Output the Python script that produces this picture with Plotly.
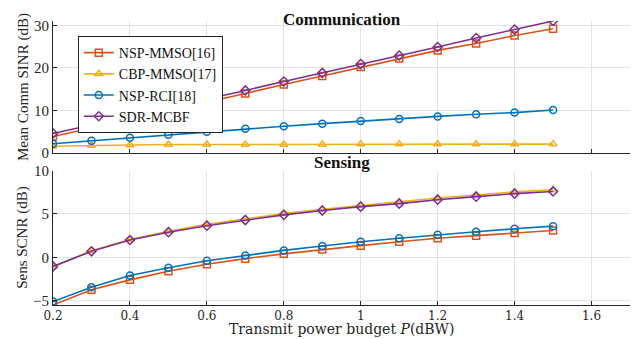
import plotly.graph_objects as go

x = [0.2, 0.3, 0.4, 0.5, 0.6, 0.7, 0.8, 0.9, 1.0, 1.1, 1.2, 1.3, 1.4, 1.5]

names = ["NSP-MMSO[16]", "CBP-MMSO[17]", "NSP-RCI[18]", "SDR-MCBF"]
colors = ["#D95319", "#EDB120", "#0072BD", "#7E2F8E"]
symbols = ["square-open", "triangle-up-open", "circle-open", "diamond-open"]

comm_nsp_mmso = [3.9, 5.9, 8.0, 10.0, 12.0, 14.0, 16.1, 18.1, 20.2, 22.2, 24.1, 25.7, 27.6, 29.2]
comm_cbp_mmso = [1.6, 1.8, 1.9, 2.0, 2.0, 2.0, 2.0, 2.0, 2.1, 2.1, 2.1, 2.1, 2.1, 2.1]
comm_nsp_rci = [2.2, 2.9, 3.6, 4.3, 5.0, 5.7, 6.3, 6.9, 7.5, 8.0, 8.6, 9.1, 9.5, 10.1]
comm_sdr_mcbf = [4.6, 6.6, 8.7, 10.7, 12.7, 14.7, 16.8, 18.8, 20.9, 22.9, 24.9, 27.0, 29.0, 31.0]

sens_nsp_mmso = [-5.5, -3.75, -2.6, -1.6, -0.8, -0.15, 0.4, 0.9, 1.35, 1.8, 2.2, 2.5, 2.8, 3.1]
sens_cbp_mmso = [-1.1, 0.75, 2.05, 3.0, 3.8, 4.45, 5.05, 5.55, 6.0, 6.4, 6.85, 7.2, 7.55, 7.8]
sens_nsp_rci = [-5.1, -3.45, -2.1, -1.2, -0.4, 0.2, 0.8, 1.3, 1.8, 2.2, 2.6, 2.95, 3.3, 3.6]
sens_sdr_mcbf = [-1.05, 0.7, 2.0, 2.9, 3.65, 4.3, 4.9, 5.4, 5.85, 6.2, 6.65, 7.0, 7.35, 7.6]

comm = [comm_nsp_mmso, comm_cbp_mmso, comm_nsp_rci, comm_sdr_mcbf]
sens = [sens_nsp_mmso, sens_cbp_mmso, sens_nsp_rci, sens_sdr_mcbf]

x_ticks = [0.2, 0.4, 0.6, 0.8, 1.0, 1.2, 1.4, 1.6]
x_ticklabels = ["0.2", "0.4", "0.6", "0.8", "1", "1.2", "1.4", "1.6"]
comm_yticks = [0, 10, 20, 30]
sens_yticks = [-5, 0, 5, 10]
x_title = "Transmit power budget <i>P</i>(dBW)"
comm_ytitle = "Mean Comm SINR (dB)"
sens_ytitle = "Sens SCNR (dB)"

SERIF = "Liberation Serif, Times New Roman, serif"
CM = "DejaVu Serif, serif"

TOP_DOM = [0.535, 1.0]
BOT_DOM = [0.0, 0.473]

fig = go.Figure()
for i in range(4):
    fig.add_trace(go.Scatter(
        x=x, y=comm[i], name=names[i], mode="lines+markers",
        line=dict(color=colors[i], width=1.6),
        marker=dict(symbol=symbols[i], size=7, color=colors[i], line=dict(width=1.5, color=colors[i])),
        xaxis="x", yaxis="y", showlegend=True, legendrank=i + 1))
for i in range(4):
    fig.add_trace(go.Scatter(
        x=x, y=sens[i], name=names[i], mode="lines+markers",
        line=dict(color=colors[i], width=1.6),
        marker=dict(symbol=symbols[i], size=7, color=colors[i], line=dict(width=1.5, color=colors[i])),
        xaxis="x2", yaxis="y2", showlegend=False))

axis_common = dict(
    showgrid=True, gridcolor="#e3e3e3", gridwidth=1,
    showline=True, linecolor="#262626", linewidth=1,
    ticks="inside", ticklen=4, tickcolor="#262626",
    zeroline=False, mirror=False, automargin=False,
    tickfont=dict(family=SERIF, size=15, color="#262626"),
)

fig.update_layout(
    width=636, height=331,
    margin=dict(l=45, r=14, t=13, b=34, autoexpand=False),
    paper_bgcolor="white", plot_bgcolor="white",
    font=dict(family=SERIF, color="#262626"),
    xaxis=dict(axis_common, range=[0.2, 1.7], tickvals=x_ticks, ticktext=x_ticklabels,
               showticklabels=False, anchor="y", domain=[0, 1]),
    yaxis=dict(axis_common, range=[0, 31], tickvals=comm_yticks, domain=TOP_DOM, anchor="x"),
    xaxis2=dict(axis_common, range=[0.2, 1.7], tickvals=x_ticks, ticktext=x_ticklabels,
                tickfont=dict(family=CM, size=12, color="#262626"),
                anchor="y2", domain=[0, 1]),
    yaxis2=dict(axis_common, range=[-5.5, 10], tickvals=sens_yticks, domain=BOT_DOM, anchor="x2"),
    legend=dict(x=0.043, y=0.947, xanchor="left", yanchor="top",
                bgcolor="white", bordercolor="#262626", borderwidth=1,
                font=dict(family=SERIF, size=14, color="#111111"),
                tracegroupgap=0, itemwidth=30),
    annotations=[
        dict(text="<b>Communication</b>", x=0.5, y=TOP_DOM[1], xref="paper", yref="paper",
             xanchor="center", yanchor="middle", yshift=2, borderpad=0, showarrow=False,
             font=dict(family=SERIF, size=17, color="#111111")),
        dict(text="<b>Sensing</b>", x=0.5, y=BOT_DOM[1], xref="paper", yref="paper",
             xanchor="center", yanchor="middle", yshift=8, showarrow=False,
             font=dict(family=SERIF, size=17, color="#111111")),
        dict(text=x_title, x=0.5, y=0.0, xref="paper", yref="paper",
             xanchor="center", yanchor="bottom", yshift=-34, showarrow=False,
             font=dict(family=CM, size=14, color="#262626")),
        dict(text=comm_ytitle, x=0.0, y=sum(TOP_DOM) / 2, xref="paper", yref="paper",
             xanchor="center", yanchor="middle", xshift=-30, textangle=-90, showarrow=False,
             font=dict(family=SERIF, size=15, color="#262626")),
        dict(text=sens_ytitle, x=0.0, y=sum(BOT_DOM) / 2, xref="paper", yref="paper",
             xanchor="center", yanchor="middle", xshift=-30, textangle=-90, showarrow=False,
             font=dict(family=SERIF, size=15, color="#262626")),
    ],
)

fig.write_html("out.html")
